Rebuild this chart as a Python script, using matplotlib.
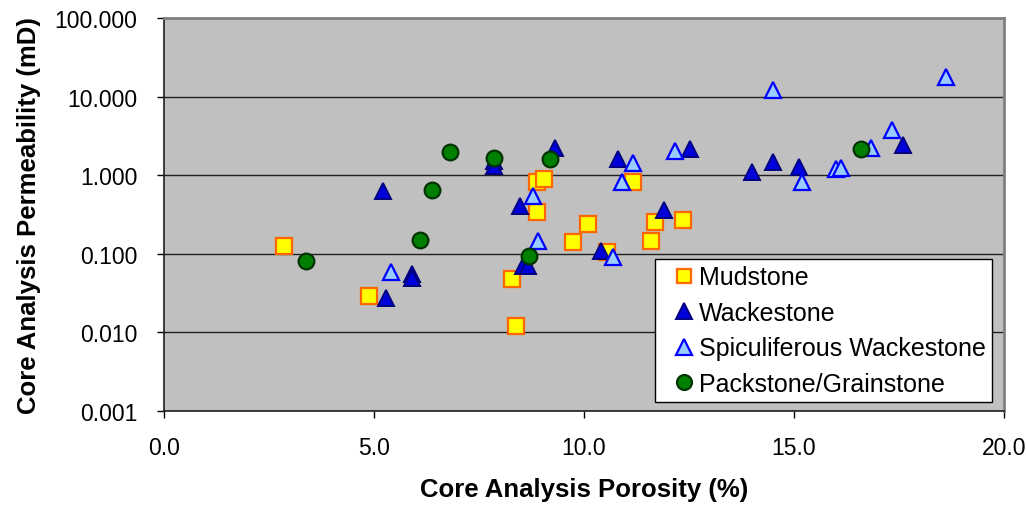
import matplotlib
matplotlib.use("Agg")
import matplotlib.pyplot as plt
from matplotlib.ticker import FixedLocator, FuncFormatter, NullLocator

plt.rcParams['font.family'] = ['Liberation Sans', 'DejaVu Sans']

# Porosity (%) and permeability (mD) by lithology
mud_phi = [2.86, 4.89, 8.29, 8.38, 8.89, 8.89, 9.05, 9.73, 10.10, 10.54, 11.16, 11.69, 11.59, 12.35]
mud_k = [0.124, 0.029, 0.048, 0.012, 0.345, 0.82, 0.90, 0.143, 0.24, 0.105, 0.83, 0.253, 0.147, 0.273]

wack_phi = [5.21, 5.29, 5.90, 5.90, 7.86, 7.86, 8.48, 8.55, 8.67, 9.31, 10.80, 12.52, 10.40, 11.90,
            14.00, 14.50, 15.13, 17.60]
wack_k = [0.63, 0.027, 0.055, 0.049, 1.50, 1.30, 0.40, 0.070, 0.070, 2.24, 1.60, 2.15, 0.109, 0.356,
          1.09, 1.46, 1.26, 2.43]

spic_phi = [5.40, 8.79, 8.90, 10.70, 10.90, 11.16, 12.17, 14.50, 15.20, 16.00, 16.11, 16.83, 17.33, 18.63]
spic_k = [0.058, 0.55, 0.146, 0.090, 0.82, 1.41, 2.05, 12.2, 0.82, 1.20, 1.25, 2.20, 3.77, 18.0]

pack_phi = [3.38, 6.10, 6.39, 6.80, 7.86, 9.19, 8.70, 16.60]
pack_k = [0.082, 0.148, 0.64, 1.98, 1.66, 1.59, 0.095, 2.18]

x_ticks = [0, 5, 10, 15, 20]
y_ticks = [0.001, 0.01, 0.1, 1, 10, 100]

fig = plt.figure(figsize=(10.26, 5.06), dpi=100)
ax = fig.add_axes([164 / 1026, 1 - 412 / 506, (1004 - 164) / 1026, (412 - 19) / 506])
ax.set_facecolor('#C0C0C0')

ax.plot(mud_phi, mud_k, ls='none', marker='s', markersize=11.3, markerfacecolor='#FFFF00',
        markeredgecolor='#FF6600', markeredgewidth=1.6, label='Mudstone', zorder=3)
ax.plot(wack_phi, wack_k, ls='none', marker='^', markersize=11.5, markerfacecolor='#0000DD',
        markeredgecolor='#000080', markeredgewidth=1.4, label='Wackestone', zorder=4)
ax.plot(spic_phi, spic_k, ls='none', marker='^', markersize=11.5, markerfacecolor='#99CCFF',
        markeredgecolor='#0000FF', markeredgewidth=1.6, label='Spiculiferous Wackestone', zorder=5)
ax.plot(pack_phi, pack_k, ls='none', marker='o', markersize=11.3, markerfacecolor='#008000',
        markeredgecolor='#003300', markeredgewidth=1.6, label='Packstone/Grainstone', zorder=6)

ax.set_yscale('log')
ax.set_xlim(0, 20)
ax.set_ylim(0.001, 100)
ax.xaxis.set_major_locator(FixedLocator(x_ticks))
ax.yaxis.set_major_locator(FixedLocator(y_ticks))
ax.yaxis.set_minor_locator(NullLocator())
ax.xaxis.set_major_formatter(FuncFormatter(lambda v, p: f"{v:.1f}"))
ax.yaxis.set_major_formatter(FuncFormatter(lambda v, p: f"{v:.3f}"))
ax.tick_params(axis='both', direction='out', length=5, width=1, colors='black', labelsize=16.5)
ax.tick_params(axis='y', pad=14)
ax.tick_params(axis='x', pad=13)

ax.yaxis.grid(True, color='#202020', linewidth=1)
ax.set_axisbelow(True)

for side in ('left', 'bottom'):
    ax.spines[side].set_color('#202020')
    ax.spines[side].set_linewidth(1.2)
for side in ('top', 'right'):
    ax.spines[side].set_color('#808080')
    ax.spines[side].set_linewidth(2)

ax.set_xlabel('Core Analysis Porosity (%)', fontsize=18.5, fontweight='bold', labelpad=13)
ax.set_ylabel('Core Analysis Permeability (mD)', fontsize=18.5, fontweight='bold', labelpad=10)

leg = ax.legend(loc='lower left', bbox_to_anchor=(655 / 1026, 1 - 403 / 506),
                bbox_transform=fig.transFigure, borderaxespad=0, fontsize=18,
                frameon=True, fancybox=False, framealpha=1, edgecolor='black',
                markerscale=0.95, handlelength=1.82, handletextpad=-0.31,
                borderpad=0.25, labelspacing=0.46)
leg.get_frame().set_linewidth(1)
leg.set_zorder(10)

fig.savefig('out.png', dpi=100, facecolor='white')
